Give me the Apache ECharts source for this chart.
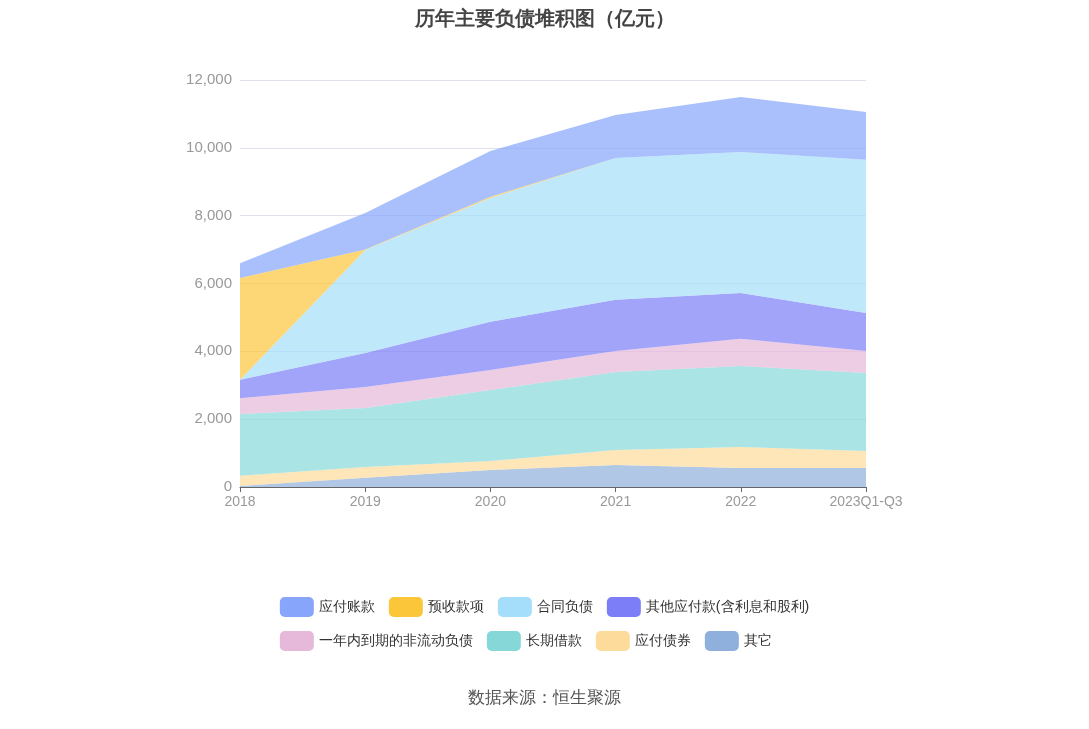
<!DOCTYPE html><html><head><meta charset="utf-8">
<script src="https://cdn.jsdelivr.net/npm/echarts@6/dist/echarts.min.js"></script>
<style>html,body{margin:0;padding:0;background:#fff}#c{width:1089px;height:729px}</style></head><body><div id="c"></div><script>
const categories=['2018','2019','2020','2021','2022','2023Q1-Q3'];
const names=['应付账款','预收款项','合同负债','其他应付款(含利息和股利)','一年内到期的非流动负债','长期借款','应付债券','其它'];
const yingfuzhangkuan=[440,1080,1350,1270,1620,1410];
const yushou=[3000,10,40,0,0,0];
const hetong=[0,3040,3650,4180,4160,4520];
const qitayingfu=[540,1000,1420,1510,1350,1120];
const yinian=[470,620,590,620,800,650];
const changqi=[1820,1740,2090,2300,2390,2300];
const zhaiquan=[300,320,270,440,620,500];
const qita=[30,270,500,650,560,560];
const colors=['#86a5fb','#fcc63a','#a5defa','#7b7ef6','#e6b8d9','#86d8d8','#fddb9b','#8fafdc'];
const dataOrder=[qita,zhaiquan,changqi,yinian,qitayingfu,hetong,yushou,yingfuzhangkuan];
const nameOrder=['其它','应付债券','长期借款','一年内到期的非流动负债','其他应付款(含利息和股利)','合同负债','预收款项','应付账款'];
const series=nameOrder.map((n,i)=>({name:n,type:'line',stack:'t',data:dataOrder[i],symbol:'none',
 lineStyle:{width:0},itemStyle:{color:colors[names.indexOf(n)]},areaStyle:{opacity:0.7,color:colors[names.indexOf(n)]}}));
const ch=echarts.init(document.getElementById('c'));
ch.setOption({
 title:{text:'历年主要负债堆积图（亿元）',left:'center',top:4,textStyle:{fontSize:20,fontWeight:'bold',color:'#444'}},
 graphic:[{type:'text',left:'center',top:690,style:{text:'数据来源：恒生聚源',fontSize:17,fill:'#555'}}],
 legend:{data:names,top:592,left:'center',width:640,itemWidth:34,itemHeight:20,itemGap:14,textStyle:{fontSize:14,color:'#333'},icon:'roundRect'},
 grid:{left:240,right:223,top:80,bottom:242},
 xAxis:{type:'category',boundaryGap:false,data:categories,axisLine:{lineStyle:{color:'#666'}},axisTick:{show:true},axisLabel:{fontSize:14,color:'#999'}},
 yAxis:{type:'value',min:0,max:12000,interval:2000,axisLabel:{fontSize:15,color:'#999',formatter:v=>v.toLocaleString('en-US')},splitLine:{lineStyle:{color:'#e0e0f0'}}},
 series
});
</script></body></html>
